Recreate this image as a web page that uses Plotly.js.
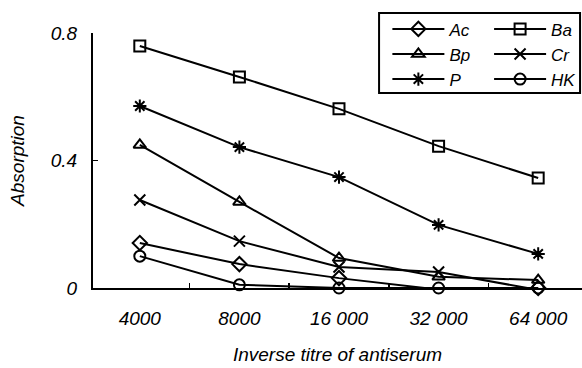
<!DOCTYPE html>
<html>
<head>
<meta charset="utf-8">
<script src="https://cdn.plot.ly/plotly-3.0.1.min.js"></script>
<style>html,body{margin:0;padding:0;background:#fff;}#chart{width:582px;height:368px;}</style>
</head>
<body>
<div id="chart"></div>
<script>
const categories = ["4000", "8000", "16 000", "32 000", "64 000"];
const seriesNames = ["Ac", "Ba", "Bp", "Cr", "P", "HK"];
const valuesAc = [0.141, 0.075, 0.031, -0.005, 0.0];
const valuesBa = [0.759, 0.662, 0.562, 0.445, 0.345];
const valuesBp = [0.449, 0.270, 0.094, 0.035, 0.025];
const valuesCr = [0.276, 0.147, 0.066, 0.050, -0.006];
const valuesP  = [0.571, 0.442, 0.348, 0.198, 0.107];
const valuesHK = [0.100, 0.010, 0.0, 0.0, 0.0];
const yTicks = [0, 0.4, 0.8];
const yTickLabels = ["0", "0.4", "0.8"];

const allValues = [valuesAc, valuesBa, valuesBp, valuesCr, valuesP, valuesHK];
const symbols = ["diamond-open", "square-open", "triangle-up-open", "x-thin-open", "asterisk-open", "circle-open"];
const legendOf = ["legend", "legend2", "legend", "legend2", "legend", "legend2"];
const FONT = "'Liberation Sans Narrow', 'Liberation Sans', Arial, sans-serif";
const F = (size) => ({family: FONT, size: size, style: "italic", stretch: "condensed", color: "#000"});

const traces = seriesNames.map((name, i) => ({
  type: "scatter",
  mode: "lines+markers",
  name: name,
  legend: legendOf[i],
  x: categories,
  y: allValues[i],
  cliponaxis: false,
  line: {color: "#000", width: 2},
  marker: {symbol: symbols[i], size: 11, color: "#000", line: {color: "#000", width: 2}}
}));

const legendBase = (x) => ({
  x: x, y: 1.085, xanchor: "left", yanchor: "top",
  orientation: "v", itemwidth: 52,
  borderwidth: 0, bgcolor: "rgba(0,0,0,0)",
  font: F(17), tracegroupgap: 0
});

const layout = {
  width: 582, height: 368,
  margin: {l: 93, r: 0, t: 33, b: 80},
  paper_bgcolor: "#fff", plot_bgcolor: "#fff",
  font: F(19),
  showlegend: true,
  legend: legendBase(0.602),
  legend2: legendBase(0.810),
  shapes: [{
    type: "rect", xref: "paper", yref: "paper",
    x0: 0.585, x1: 0.996, y0: 0.765, y1: 1.078,
    line: {color: "#000", width: 2}, fillcolor: "#fff", layer: "above"
  }],
  xaxis: {
    type: "category",
    range: [-0.47, 4.44],
    showgrid: false, zeroline: false,
    showline: true, linecolor: "#000", linewidth: 2,
    ticks: "inside", tickson: "boundaries", ticklen: 5, tickwidth: 1.5, tickcolor: "#000",
    ticklabelstandoff: 12,
    tickfont: F(19),
    title: {text: "Inverse titre of antiserum", font: F(19), standoff: 20}
  },
  yaxis: {
    range: [0, 0.8],
    showgrid: false, zeroline: false,
    showline: true, linecolor: "#000", linewidth: 2,
    ticks: "inside", ticklen: 5, tickwidth: 1.5, tickcolor: "#000",
    tickvals: yTicks, ticktext: yTickLabels,
    ticklabelstandoff: 10,
    tickfont: F(19),
    title: {text: "Absorption", font: F(19), standoff: 21}
  }
};

Plotly.newPlot("chart", traces, layout, {displayModeBar: false, staticPlot: true});
</script>
</body>
</html>
